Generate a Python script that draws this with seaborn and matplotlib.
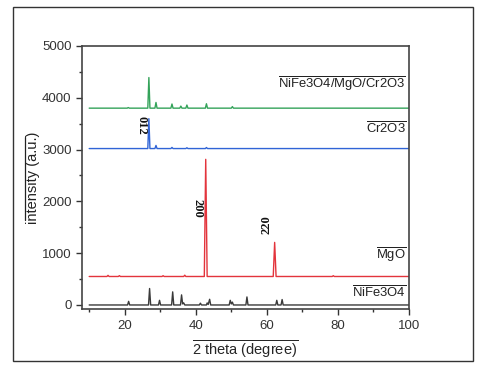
import matplotlib
matplotlib.use("Agg")
import matplotlib.pyplot as plt
from matplotlib.patches import Rectangle
from matplotlib.ticker import MultipleLocator
import seaborn as sns

# 2 theta / intensity points
nife_x = [10, 20.8, 21.1, 21.4, 26.7, 27.0, 27.3, 29.5, 29.8, 30.1, 33.2, 33.5, 33.8,
          35.7, 36.0, 36.3, 36.6, 36.9, 41.0, 41.3, 41.6, 43.0, 43.2, 43.5, 43.9, 44.2,
          49.4, 49.7, 50.0, 50.3, 50.6, 54.1, 54.4, 54.7, 62.5, 62.8, 63.1, 64.0, 64.3,
          64.6, 100]
nife_y = [0, 0, 70, 0, 0, 318, 0, 0, 90, 0, 0, 253, 0,
          0, 195, 20, 40, 0, 0, 35, 0, 0, 40, 10, 110, 0,
          0, 90, 20, 55, 0, 0, 155, 0, 0, 90, 0, 0, 105,
          0, 0]

mgo_x = [10, 15.0, 15.3, 15.6, 18.2, 18.5, 18.8, 30.5, 30.8, 31.1, 36.6, 36.9, 37.2,
         42.4, 42.8, 43.2, 61.8, 62.2, 62.6, 78.4, 78.7, 79.0, 100]
mgo_y = [550, 550, 572, 550, 550, 566, 550, 550, 565, 550, 550, 575, 550,
         550, 2812, 550, 550, 1208, 550, 550, 565, 550, 550]

cr_x = [10, 26.5, 26.8, 27.1, 28.5, 28.8, 29.1, 33.0, 33.3, 33.6, 37.2, 37.5, 37.8,
        42.7, 43.0, 43.3, 100]
cr_y = [3020, 3020, 3597, 3020, 3020, 3080, 3020, 3020, 3042, 3020, 3020, 3035, 3020,
        3020, 3040, 3020, 3020]

comp_x = [10, 20.7, 21.0, 21.3, 26.5, 26.8, 27.1, 28.5, 28.8, 29.1, 33.0, 33.3, 33.6,
          35.5, 35.8, 36.1, 37.2, 37.5, 37.8, 42.7, 43.0, 43.3, 50.0, 50.3, 50.6, 100]
comp_y = [3800, 3800, 3812, 3800, 3800, 4391, 3800, 3800, 3910, 3800, 3800, 3880, 3800,
          3800, 3840, 3800, 3800, 3860, 3800, 3800, 3885, 3800, 3800, 3830, 3800, 3800]

series_names = ["NiFe3O4", "MgO", "Cr2O3", "NiFe3O4/MgO/Cr2O3"]
series_colors = ["#3a3a3a", "#e3343c", "#3064d6", "#34a35a"]
label_y = [232, 965, 3400, 4270]

peak_labels = ["012", "200", "220"]
peak_x = [24.8, 40.5, 59.8]
peak_y = [3475, 1873, 1545]
peak_rot = [-90, -90, 90]

sns.set_style("ticks")
plt.rcParams["font.family"] = ["Liberation Sans", "DejaVu Sans"]
plt.rcParams["mathtext.fontset"] = "custom"
plt.rcParams["mathtext.rm"] = "Liberation Sans"
plt.rcParams["mathtext.it"] = "Liberation Sans:italic"
plt.rcParams["mathtext.bf"] = "Liberation Sans:bold"

fig = plt.figure(figsize=(4.8, 3.68), dpi=100)
ax = fig.add_axes([0.171, 0.160, 0.681, 0.715])

data = [(nife_x, nife_y), (mgo_x, mgo_y), (cr_x, cr_y), (comp_x, comp_y)]
for (xs, ys), col in zip(data, series_colors):
    sns.lineplot(x=xs, y=ys, color=col, linewidth=1.0, ax=ax,
                 estimator=None, sort=False)

for name, ly in zip(series_names, label_y):
    ax.text(99.2, ly, r"$\overline{\mathrm{" + name + "}}$", ha="right", va="center",
            fontsize=9.4, color="#222222")

for lab, px, py, rot in zip(peak_labels, peak_x, peak_y, peak_rot):
    ax.text(px, py, lab, rotation=rot, ha="center", va="center", fontsize=9,
            fontweight="bold", family="Liberation Serif", color="#111111")

ax.set_xlim(8, 100)
ax.set_ylim(-80, 5000)
ax.xaxis.set_major_locator(MultipleLocator(20))
ax.xaxis.set_minor_locator(MultipleLocator(10))
ax.yaxis.set_major_locator(MultipleLocator(1000))
ax.yaxis.set_minor_locator(MultipleLocator(500))
ax.tick_params(which="major", direction="out", length=4, width=1, labelsize=9.5,
               colors="#333333")
ax.tick_params(which="minor", direction="out", length=2.5, width=1, colors="#333333")
ax.tick_params(top=False, right=False, which="both")
for sp in ax.spines.values():
    sp.set_visible(True)
    sp.set_color("#444444")
    sp.set_linewidth(1.2)

ax.set_xlabel(r"$\overline{\mathrm{2\ theta\ (degree)}}$", fontsize=10.5, labelpad=5)

# y label with its overline drawn as a separate rule to its left
fig.text(33 / 480, 1 - 178 / 368, "intensity (a.u.)", rotation=90, ha="center",
         va="center", fontsize=10.5, color="#222222")
fig.add_artist(plt.Line2D([25 / 480, 25 / 480], [1 - 220 / 368, 1 - 137 / 368],
                          transform=fig.transFigure, color="#222222", linewidth=0.9))

fig.patches.append(Rectangle((13 / 480, 1 - 361 / 368), 460 / 480, 354 / 368,
                             transform=fig.transFigure, fill=False,
                             edgecolor="#333333", linewidth=1.0))

fig.savefig("out.png", dpi=100)
